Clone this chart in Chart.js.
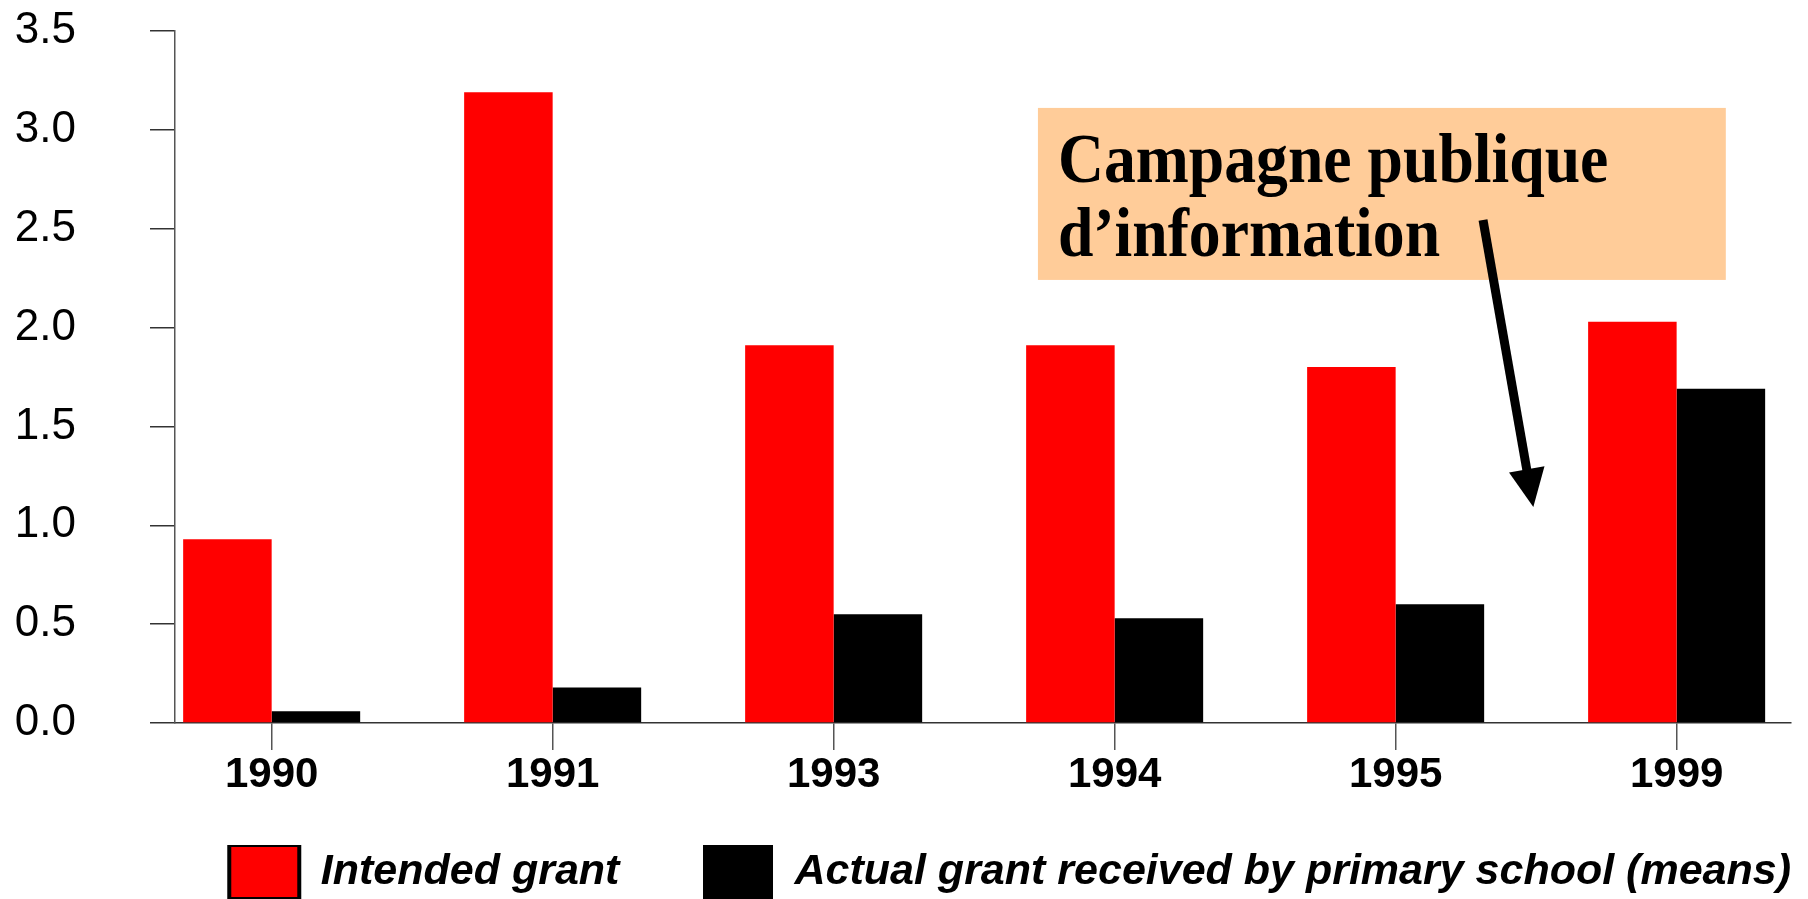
<!DOCTYPE html>
<html>
<head>
<meta charset="utf-8">
<script src="https://cdn.jsdelivr.net/npm/chart.js@4/dist/chart.umd.min.js"></script>
<style>
  html, body { margin: 0; padding: 0; background: #fff; overflow: hidden; }
  #wrap { width: 1808px; height: 899px; position: relative; }
</style>
</head>
<body>
<div id="wrap"><canvas id="c"></canvas></div>
<script>
// Grant per pupil, by year
const years = ['1990', '1991', '1993', '1994', '1995', '1999'];
const intendedGrant = [0.93, 3.19, 1.91, 1.91, 1.80, 2.03];
const actualGrant = [0.06, 0.18, 0.55, 0.53, 0.60, 1.69];
const yTicks = [0, 0.5, 1.0, 1.5, 2.0, 2.5, 3.0, 3.5];
const seriesNames = ['Intended grant', 'Actual grant received by primary school (means)'];
const calloutLines = ['Campagne publique', 'd\u2019information'];

const sans = '"Liberation Sans", Arial, Helvetica, sans-serif';
const serif = '"Liberation Serif", "Times New Roman", Times, serif';

// Callout box with an arrow pointing at the gap before 1999 (values in axis units)
const calloutPlugin = {
  id: 'callout',
  afterDraw(chart) {
    const { ctx, scales: { x, y } } = chart;
    ctx.save();
    // box
    const bx0 = x.getPixelForValue(2.727), bx1 = x.getPixelForValue(5.175);
    const by0 = y.getPixelForValue(3.111), by1 = y.getPixelForValue(2.241);
    ctx.fillStyle = '#FFCC99';
    ctx.fillRect(bx0, by0, bx1 - bx0, by1 - by0);
    // text, slightly condensed
    ctx.fillStyle = '#000';
    ctx.font = 'bold 70px ' + serif;
    ctx.textBaseline = 'alphabetic';
    ctx.textAlign = 'left';
    const tx = x.getPixelForValue(2.798);
    const baselines = [2.736, 2.362];
    calloutLines.forEach((line, i) => {
      ctx.save();
      ctx.translate(tx, y.getPixelForValue(baselines[i]));
      ctx.scale(0.91, 1);
      ctx.fillText(line, 0, 0);
      ctx.restore();
    });
    // arrow
    const ax0 = x.getPixelForValue(4.311), ay0 = y.getPixelForValue(2.544);
    const ax1 = x.getPixelForValue(4.490), ay1 = y.getPixelForValue(1.093);
    const ang = Math.atan2(ay1 - ay0, ax1 - ax0);
    const headLen = 38, headHalf = 18;
    const hx = ax1 - headLen * Math.cos(ang), hy = ay1 - headLen * Math.sin(ang);
    ctx.strokeStyle = '#000';
    ctx.lineWidth = 9;
    ctx.beginPath();
    ctx.moveTo(ax0, ay0);
    ctx.lineTo(hx + 2 * Math.cos(ang), hy + 2 * Math.sin(ang));
    ctx.stroke();
    ctx.beginPath();
    ctx.moveTo(ax1, ay1);
    ctx.lineTo(hx + headHalf * Math.sin(ang), hy - headHalf * Math.cos(ang));
    ctx.lineTo(hx - headHalf * Math.sin(ang), hy + headHalf * Math.cos(ang));
    ctx.closePath();
    ctx.fill();
    ctx.restore();
  }
};

new Chart(document.getElementById('c'), {
  type: 'bar',
  data: {
    datasets: [
      {
        label: seriesNames[0],
        data: intendedGrant.map((v, i) => ({ x: i, y: v })),
        backgroundColor: '#FF0000',
        borderWidth: 0
      },
      {
        label: seriesNames[1],
        data: actualGrant.map((v, i) => ({ x: i, y: v })),
        backgroundColor: '#000000',
        borderWidth: 0
      }
    ]
  },
  options: {
    responsive: true,
    maintainAspectRatio: false,
    animation: false,
    devicePixelRatio: 1,
    categoryPercentage: 0.63,
    barPercentage: 1.0,
    layout: { padding: { top: 31, right: 17, left: 0, bottom: 0 } },
    scales: {
      x: {
        type: 'linear',
        min: -0.344,
        max: 5.407,
        offset: false,
        afterBuildTicks(scale) {
          scale.ticks = years.map((_, i) => ({ value: i }));
        },
        afterFit(scale) { scale.height = 122; },
        grid: {
          offset: false,
          drawOnChartArea: false,
          drawTicks: true,
          tickLength: 27,
          color: '#555',
          lineWidth: 1.5
        },
        border: { display: true, color: '#333', width: 1.5 },
        ticks: {
          color: '#000',
          padding: 0,
          maxRotation: 0,
          autoSkip: false,
          font: { family: sans, size: 42, weight: 'bold' },
          callback: (v) => years[v]
        }
      },
      y: {
        min: 0,
        max: 3.5,
        afterBuildTicks(scale) {
          scale.ticks = yTicks.map(v => ({ value: v }));
        },
        afterFit(scale) {
          scale.width = 175;
          scale.paddingTop = 0;
          scale.paddingBottom = 0;
        },
        grid: {
          drawOnChartArea: false,
          drawTicks: true,
          tickLength: 25,
          color: '#333',
          lineWidth: 1.5
        },
        border: { display: true, color: '#555', width: 1.5 },
        ticks: {
          color: '#000',
          padding: 74,
          font: { family: sans, size: 44 },
          callback: (v) => Number(v).toFixed(1)
        }
      }
    },
    plugins: {
      tooltip: { enabled: false },
      legend: {
        position: 'bottom',
        align: 'end',
        maxHeight: 54,
        labels: {
          boxWidth: 70,
          boxHeight: 54,
          padding: 0,
          color: '#000',
          font: { family: sans, size: 43, weight: 'bold', style: 'italic' },
          generateLabels(chart) {
            const items = Chart.defaults.plugins.legend.labels.generateLabels(chart);
            items.forEach((it, i) => {
              it.lineWidth = i === 0 ? 4 : 0;
              it.strokeStyle = '#000';
            });
            // spacing between the two legend entries
            items[0].text = items[0].text + '\u00a0'.repeat(7);
            return items;
          }
        }
      }
    }
  },
  plugins: [calloutPlugin]
});
</script>
</body>
</html>
